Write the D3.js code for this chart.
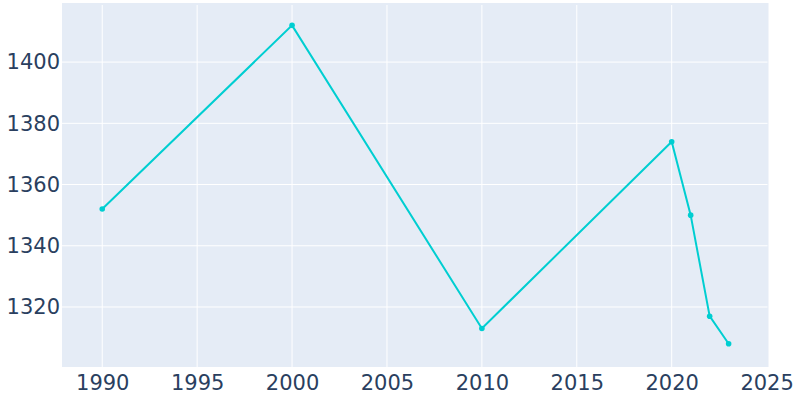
<!DOCTYPE html>
<html><head><meta charset="utf-8">
<script src="https://cdn.jsdelivr.net/npm/d3@7"></script>
<style>body{margin:0;background:#fff}svg text{font-family:"DejaVu Sans",sans-serif}</style>
</head><body>
<svg id="c" width="800" height="400"></svg>
<script>
const years = [1990, 2000, 2010, 2020, 2021, 2022, 2023];
const population = [1352, 1412, 1313, 1374, 1350, 1317, 1308];
const xTicks = [1990, 1995, 2000, 2005, 2010, 2015, 2020, 2025];
const yTicks = [1320, 1340, 1360, 1380, 1400];

const svg = d3.select("#c");
const L = 62, R = 768.5, T = 3, B = 367;
const x = d3.scaleLinear().domain([1987.88, 2025.1]).range([L, R]);
const y = d3.scaleLinear().domain([1300.4, 1419.3]).range([B, T]);

svg.append("rect").attr("x", L).attr("y", T).attr("width", R - L).attr("height", B - T).attr("fill", "#E5ECF6");

const g = svg.append("g");
g.selectAll(".vg").data(xTicks.filter(d => x(d) < R - 5)).join("line")
  .attr("x1", d => x(d)).attr("x2", d => x(d)).attr("y1", T + 2).attr("y2", B)
  .attr("stroke", "#fff").attr("stroke-width", 1);
g.selectAll(".hg").data(yTicks).join("line")
  .attr("x1", L).attr("x2", R - 1).attr("y1", d => y(d)).attr("y2", d => y(d))
  .attr("stroke", "#fff").attr("stroke-width", 1);

const xAxis = svg.append("g").attr("transform", `translate(0,${B})`)
  .call(d3.axisBottom(x).tickValues(xTicks).tickFormat(d3.format("d")).tickSize(0).tickPadding(8));
xAxis.select(".domain").remove();
xAxis.selectAll("text").attr("font-size", 21).attr("fill", "#2a3f5f").attr("font-family", "DejaVu Sans, sans-serif");

const yAxis = svg.append("g").attr("transform", `translate(${L},0)`)
  .call(d3.axisLeft(y).tickValues(yTicks).tickFormat(d3.format("d")).tickSize(0).tickPadding(2));
yAxis.select(".domain").remove();
yAxis.selectAll("text").attr("font-size", 21).attr("fill", "#2a3f5f").attr("font-family", "DejaVu Sans, sans-serif");

const data = years.map((d, i) => ({ year: d, value: population[i] }));
svg.append("path").datum(data)
  .attr("fill", "none").attr("stroke", "#00CED1").attr("stroke-width", 2)
  .attr("d", d3.line().x(d => x(d.year)).y(d => y(d.value)));
svg.selectAll(".pt").data(data).join("circle")
  .attr("cx", d => x(d.year)).attr("cy", d => y(d.value)).attr("r", 2.8)
  .attr("fill", "#00CED1");
</script>
</body></html>
